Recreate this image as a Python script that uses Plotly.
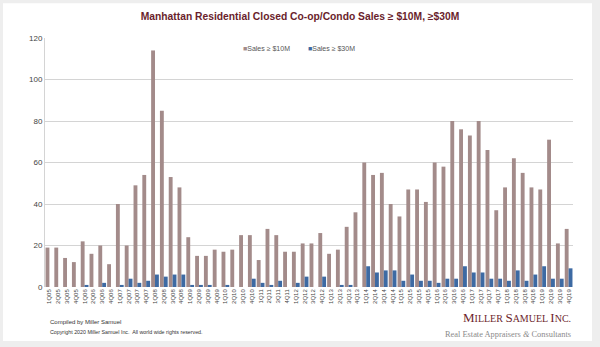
import plotly.graph_objects as go

quarters = [f"{q}Q{y:02d}" for y in range(5, 20) for q in range(1, 5)]

sales_10m = [19, 19, 14, 12, 22, 16, 20, 11, 40, 20, 49, 54, 114, 85, 53, 48,
             24, 15, 15, 18, 17, 18, 25, 25, 13, 28, 25, 17, 17, 21, 21, 26,
             16, 18, 29, 36, 60, 54, 55, 40, 34, 47, 47, 41, 60, 58, 80, 76,
             73, 80, 66, 37, 48, 62, 55, 48, 47, 71, 21, 28]

sales_30m = [0, 0, 0, 0, 1, 0, 2, 0, 1, 4, 2, 3, 6, 5, 6, 6,
             1, 1, 1, 0, 1, 0, 0, 4, 2, 1, 3, 0, 2, 5, 0, 5,
             0, 1, 1, 0, 10, 7, 8, 8, 3, 6, 3, 3, 2, 4, 4, 10,
             7, 7, 4, 4, 3, 8, 3, 6, 10, 4, 4, 9]

series_names = ["Sales ≥ $10M", "Sales ≥ $30M"]
series_colors = ["#a38b8a", "#3d6aa3"]
y_ticks = [0, 20, 40, 60, 80, 100, 120]

fig = go.Figure()
for vals, name, col in zip([sales_10m, sales_30m], series_names, series_colors):
    fig.add_trace(go.Bar(x=quarters, y=vals, name=name, showlegend=False,
                         marker=dict(color=col, line=dict(width=0))))

fig.update_layout(
    width=600, height=347,
    paper_bgcolor="#eeeeee",
    plot_bgcolor="white",
    margin=dict(l=45, r=27, t=38, b=60),
    barmode="group", bargap=0.12, bargroupgap=0.0,
    font=dict(family="Liberation Sans, Arial", color="#444444"),
    title=dict(text="<b>Manhattan Residential Closed Co-op/Condo Sales ≥ $10M, ≥$30M</b>",
               x=0.5, xanchor="center", y=0.952, yanchor="middle",
               font=dict(size=10.3, color="#6a1e2c", family="Liberation Sans, Arial")),
    shapes=[dict(type="rect", xref="paper", yref="paper",
                 x0=-0.0795, x1=1.036, y0=-0.217, y1=1.14,
                 fillcolor="white", line=dict(width=0), layer="below")],
)

# legend drawn as text items
legend_x = [0.372, 0.494]
for lx, name, col in zip(legend_x, series_names, series_colors):
    fig.add_annotation(xref="paper", yref="paper", x=lx, y=0.958, xanchor="left", yanchor="middle",
                       text=f"<span style='color:{col}'>■</span>{name}", showarrow=False,
                       font=dict(size=7, color="#555555"))

fig.update_xaxes(tickangle=-90, tickfont=dict(size=6, color="#444444"),
                 showline=False, ticks="", showgrid=False)
fig.update_yaxes(range=[0, 120], tickvals=y_ticks, tickfont=dict(size=8, color="#444444"),
                 showgrid=True, gridcolor="#d4d4d4", gridwidth=1,
                 showline=True, linecolor="#d4d4d4", zeroline=False, ticks="")

fig.add_annotation(xref="paper", yref="paper", x=0.006, y=-0.14, xanchor="left", yanchor="middle",
                   text="Compiled by Miller Samuel", showarrow=False,
                   font=dict(size=6, color="#333333"))
fig.add_annotation(xref="paper", yref="paper", x=0.006, y=-0.18, xanchor="left", yanchor="middle",
                   text="Copyright 2020 Miller Samuel Inc.  All world wide rights reserved.", showarrow=False,
                   font=dict(size=5.3, color="#333333"))
fig.add_annotation(xref="paper", yref="paper", x=1.0, y=-0.122, xanchor="right", yanchor="middle",
                   text="<span style='font-size:13px'>M</span>ILLER <span style='font-size:13px'>S</span>AMUEL <span style='font-size:13px'>I</span>NC.",
                   showarrow=False,
                   font=dict(size=10, color="#6e1f2e", family="Liberation Serif, Times New Roman"))
fig.add_annotation(xref="paper", yref="paper", x=1.0, y=-0.19, xanchor="right", yanchor="middle",
                   text="Real Estate Appraisers <i>&amp;</i> Consultants", showarrow=False,
                   font=dict(size=8.4, color="#8a8a8a", family="Liberation Serif, Times New Roman"))

fig.write_html("out.html")
